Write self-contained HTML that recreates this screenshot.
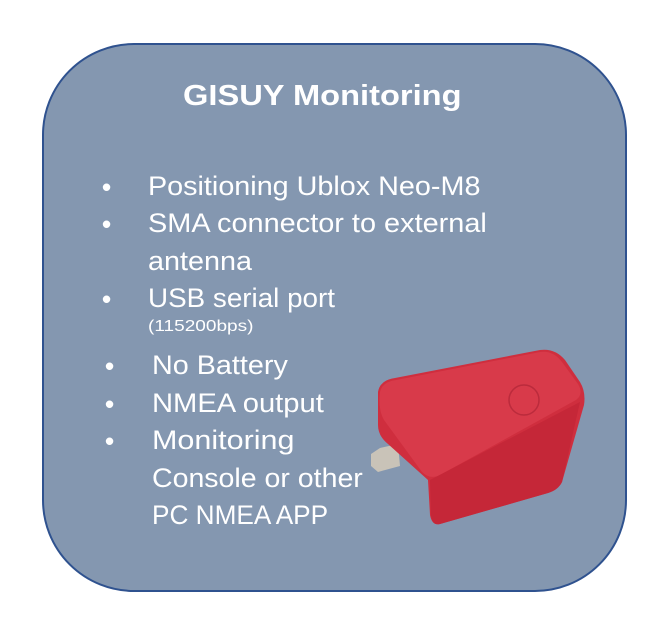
<!DOCTYPE html>
<html><head><meta charset="utf-8"><style>
body{margin:0;width:663px;height:635px;background:#fff;position:relative;overflow:hidden;font-family:"Liberation Sans",sans-serif}
.box{position:absolute;left:42px;top:43px;width:581px;height:545px;border:2px solid #2f528f;border-radius:92px;background:#8497b0}
.t{position:absolute;color:#fff;white-space:nowrap;transform-origin:left center;font-size:27px}
.b{position:absolute;color:#fff;font-size:26px;font-weight:bold}
</style></head><body>
<div class="box"></div>
<div class="t" style="left:183px;top:80px;font-size:29px;font-weight:bold;transform:scaleX(1.125)">GISUY Monitoring</div>
<div class="b" style="left:102px;top:172px">•</div>
<div class="t" style="left:148px;top:171px;transform:scaleX(1.065)">Positioning Ublox Neo-M8</div>
<div class="b" style="left:102px;top:209px">•</div>
<div class="t" style="left:148px;top:208px;transform:scaleX(1.07)">SMA connector to external</div>
<div class="t" style="left:148px;top:246px;transform:scaleX(1.065)">antenna</div>
<div class="b" style="left:102px;top:284px">•</div>
<div class="t" style="left:148px;top:283px;transform:scaleX(1.03)">USB serial port</div>
<div class="t" style="left:148px;top:318px;font-size:16px;transform:scaleX(1.19)">(115200bps)</div>
<div class="b" style="left:105px;top:351px">•</div>
<div class="t" style="left:152px;top:350px;transform:scaleX(1.065)">No Battery</div>
<div class="b" style="left:105px;top:389px">•</div>
<div class="t" style="left:152px;top:388px;transform:scaleX(1.08)">NMEA output</div>
<div class="b" style="left:105px;top:426px">•</div>
<div class="t" style="left:152px;top:425px;transform:scaleX(1.13)">Monitoring</div>
<div class="t" style="left:152px;top:463px;transform:scaleX(1.056)">Console or other</div>
<div class="t" style="left:152px;top:500px;transform:scaleX(0.97)">PC NMEA APP</div>
<svg style="position:absolute;left:0;top:0" width="663" height="635">
<polygon points="380,448 398,444 400,466 378,472 371,466 371,454" fill="#c9c3b8"/>
<path d="M378,392 Q380,380 395,378 L540,350 Q555,348 565,360 L580,382 Q586,392 584,405 L562,482 Q558,490 548,493 L440,524 Q432,526 430,515 L428,480 L388,444 Q378,436 378,425 Z" fill="#cf2e3e"/>
<path d="M380,392 Q382,382 396,380 L540,352 Q553,350 562,362 L578,384 Q584,394 576,400 L440,475 Q430,480 422,472 L384,420 Q378,410 380,392 Z" fill="#d83a4a"/>
<path d="M430,480 L580,402 L562,482 Q558,490 548,493 L440,524 Q432,526 431,515 Z" fill="#c52738"/>
<circle cx="524" cy="400" r="15" fill="none" stroke="#bb2b3c" stroke-width="1.5"/>
</svg>
</body></html>
